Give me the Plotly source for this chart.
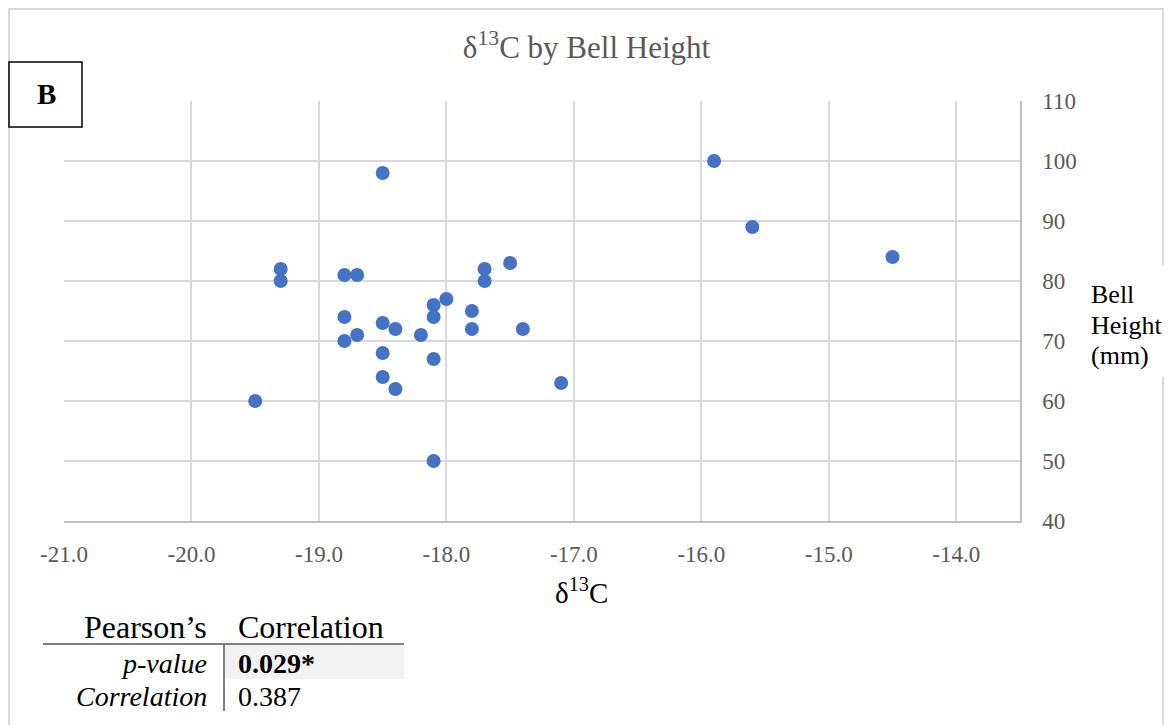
import plotly.graph_objects as go

# data
d13c = [-15.9, -15.6, -14.5, -18.5, -19.3, -19.3, -18.8, -18.7, -18.8, -18.8,
        -18.7, -18.5, -18.4, -18.5, -18.5, -18.4, -18.2, -18.1, -18.1, -18.0,
        -18.1, -18.1, -17.8, -17.8, -17.7, -17.7, -17.5, -17.4, -17.1, -19.5]
bell_height = [100, 89, 84, 98, 82, 80, 81, 81, 74, 70,
               71, 73, 72, 68, 64, 62, 71, 76, 74, 77,
               67, 50, 75, 72, 82, 80, 83, 72, 63, 60]
x_ticks = [-21, -20, -19, -18, -17, -16, -15, -14]
y_ticks = [40, 50, 60, 70, 80, 90, 100, 110]
y_title_lines = ["Bell", "Height", "(mm)"]
table_rows = ["p-value", "Correlation"]
table_vals = ["0.029*", "0.387"]

W, H = 1173, 725
L, R, T, B = 64, 1020, 101, 521
SERIF = "Liberation Serif, Times New Roman, serif"


def px(x):
    return (x - L) / (R - L)


def py(y):
    return (B - y) / (B - T)


fig = go.Figure()
fig.add_trace(go.Scatter(x=d13c, y=bell_height, mode="markers",
                         marker=dict(color="#4472C4", size=14, line=dict(width=0)),
                         showlegend=False, hoverinfo="x+y"))

fig.update_layout(
    width=W, height=H,
    margin=dict(l=L, r=W - R, t=T, b=H - B),
    paper_bgcolor="white", plot_bgcolor="white",
    font=dict(family=SERIF, color="#595959", size=23),
    title=dict(text="δ<sup>13</sup>C by Bell Height", x=0.5, xanchor="center",
               y=1 - 47 / H, yanchor="middle",
               font=dict(family=SERIF, size=31, color="#595959")),
    xaxis=dict(range=[-21, -13.5], tickvals=x_ticks,
               ticktext=[f"{v:.1f}" for v in x_ticks],
               showgrid=True, gridcolor="#d9d9d9", gridwidth=1.5,
               zeroline=False, showline=True, linecolor="#bfbfbf", linewidth=1.5,
               ticks="outside", ticklen=12, tickcolor="rgba(0,0,0,0)",
               tickfont=dict(family=SERIF, size=23, color="#595959")),
    yaxis=dict(range=[40, 110], tickvals=y_ticks, side="right",
               showgrid=True, gridcolor="#d9d9d9", gridwidth=1.5,
               zeroline=False, showline=True, linecolor="#bfbfbf", linewidth=1.5,
               ticks="outside", ticklen=16, tickcolor="rgba(0,0,0,0)",
               tickfont=dict(family=SERIF, size=23, color="#595959")),
)

shapes = []
# outer chart border
shapes.append(dict(type="rect", xref="paper", yref="paper",
                   x0=px(9), x1=px(1163), y0=py(760), y1=py(9),
                   line=dict(color="#d9d9d9", width=2), fillcolor="rgba(0,0,0,0)",
                   layer="below"))
# white patch behind the y-axis title (covers the border)
shapes.append(dict(type="rect", xref="paper", yref="paper",
                   x0=px(1080), x1=px(1180), y0=py(377), y1=py(265),
                   line=dict(width=0), fillcolor="white", layer="above"))
# B box
shapes.append(dict(type="rect", xref="paper", yref="paper",
                   x0=px(9), x1=px(82), y0=py(127), y1=py(62),
                   line=dict(color="black", width=1.5), fillcolor="white",
                   layer="above"))
# table shaded cell
shapes.append(dict(type="rect", xref="paper", yref="paper",
                   x0=px(225), x1=px(404), y0=py(679), y1=py(645),
                   line=dict(width=0), fillcolor="#f2f2f2"))
# table horizontal line
shapes.append(dict(type="line", xref="paper", yref="paper",
                   x0=px(43), x1=px(404), y0=py(644), y1=py(644),
                   line=dict(color="#7f7f7f", width=2)))
# table vertical line
shapes.append(dict(type="line", xref="paper", yref="paper",
                   x0=px(224), x1=px(224), y0=py(644), y1=py(711),
                   line=dict(color="#7f7f7f", width=2)))
fig.update_layout(shapes=shapes)

ann = []
ann.append(dict(text="<b>B</b>", xref="paper", yref="paper", x=px(46), y=py(94),
                showarrow=False, xanchor="center", yanchor="middle",
                font=dict(family=SERIF, size=29, color="black")))
ann.append(dict(text="δ<sup>13</sup>C", xref="paper", yref="paper", x=px(581), y=py(591),
                showarrow=False, xanchor="center", yanchor="middle",
                font=dict(family=SERIF, size=29, color="black")))
for line_text, yy in zip(y_title_lines, [294, 325, 355]):
    ann.append(dict(text=line_text, xref="paper", yref="paper",
                    x=px(1089), y=py(yy), showarrow=False, xanchor="left", yanchor="middle",
                    font=dict(family=SERIF, size=26, color="black")))
# table text
ann.append(dict(text="Pearson’s", xref="paper", yref="paper", x=px(209), y=py(627),
                showarrow=False, xanchor="right", yanchor="middle",
                font=dict(family=SERIF, size=32, color="black")))
ann.append(dict(text="Correlation", xref="paper", yref="paper", x=px(236), y=py(627),
                showarrow=False, xanchor="left", yanchor="middle",
                font=dict(family=SERIF, size=32, color="black")))
row_y = [663, 696]
for lab, val, yy, bold in zip(table_rows, table_vals, row_y, [True, False]):
    ann.append(dict(text=f"<i>{lab}</i>", xref="paper", yref="paper", x=px(209), y=py(yy),
                    showarrow=False, xanchor="right", yanchor="middle",
                    font=dict(family=SERIF, size=28, color="black")))
    ann.append(dict(text=f"<b>{val}</b>" if bold else val, xref="paper", yref="paper",
                    x=px(236), y=py(yy), showarrow=False, xanchor="left", yanchor="middle",
                    font=dict(family=SERIF, size=28, color="black")))
fig.update_layout(annotations=ann)

fig.write_html("out.html")
